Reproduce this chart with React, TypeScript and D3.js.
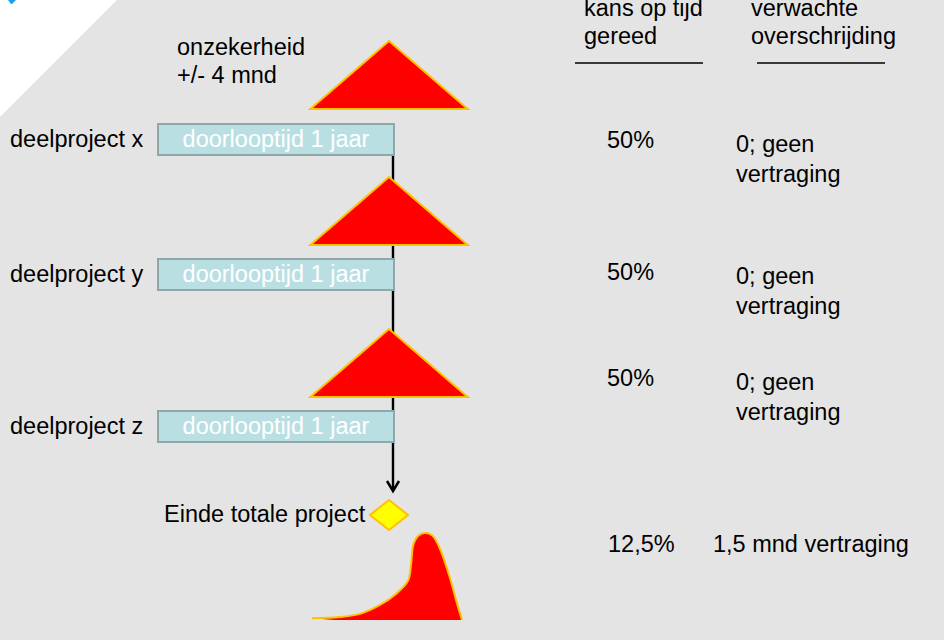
import React from "react";
import * as d3 from "d3";

// ---- data ----
const subprojects = ["deelproject x", "deelproject y", "deelproject z"];
const durationLabel = "doorlooptijd 1 jaar";
const durationMonths = 12;
const uncertaintyMonths = 4;
const onTimeChance = ["50%", "50%", "50%"];
const expectedOverrun = [
  ["0; geen", "vertraging"],
  ["0; geen", "vertraging"],
  ["0; geen", "vertraging"],
];
const headerChance = ["kans op tijd", "gereed"];
const headerOverrun = ["verwachte", "overschrijding"];
const uncertaintyLabel = ["onzekerheid", "+/- 4 mnd"];
const endLabel = "Einde totale project";
const totalChance = "12,5%";
const totalOverrun = "1,5 mnd vertraging";
// resulting distribution (x: relative time, y: relative density)
const distX = [0, 1.9, 3.2, 4.5, 5.6, 6.4, 6.6, 6.75, 7.07, 7.5, 8.0, 8.5, 9.2, 9.65, 10];
const distY = [0.02, 0.035, 0.07, 0.17, 0.3, 0.45, 0.63, 0.86, 0.965, 1.0, 0.975, 0.83, 0.48, 0.2, 0];

// ---- layout ----
const W = 944;
const H = 640;
const FONT = "'Liberation Sans', Arial, Helvetica, sans-serif";
const FS = 23.5;
const barTops = [124, 259, 411];
const barH = 31;
const triTops = [41, 177, 329];
const triH = 68;

const xTime = d3.scaleLinear().domain([0, durationMonths]).range([158, 394]);
const xDist = d3.scaleLinear().domain([0, 10]).range([312, 462]);
const yDist = d3.scaleLinear().domain([0, 1]).range([620, 533]);

export default function App() {
  const lineX = xTime(durationMonths) - 1;
  const triCx = xTime(durationMonths) - 5;
  const halfW = xTime(uncertaintyMonths) - xTime(0);

  const pts: [number, number][] = distX.map((x, i) => [xDist(x), yDist(distY[i])]);
  const curve = d3
    .line<[number, number]>()
    .x((d) => d[0])
    .y((d) => d[1])
    .curve(d3.curveCatmullRom.alpha(0.5));
  const curvePath = curve(pts) || "";
  const fillPath = curvePath + `L${xDist(10)},${yDist(0)}L${xDist(1.5)},${yDist(0)}Z`;

  const diaCx = triCx;
  const diaCy = 515;

  const textStyle: React.CSSProperties = { fontFamily: FONT, fontSize: FS };

  return (
    <svg
      width={W}
      height={H}
      style={{ position: "absolute", left: 0, top: 0, display: "block" }}
    >
      <rect x={0} y={0} width={W} height={H} fill="#e4e4e4" />
      <polygon points="0,0 117,0 0,117" fill="#ffffff" />
      <polygon points="8,0 16,0 12,4 11,4" fill="#1aa3e8" />

      {/* headers */}
      <g style={textStyle} fill="#000">
        {headerChance.map((t, i) => (
          <text key={"hc" + i} x={584} y={16 + i * 28}>{t}</text>
        ))}
        {headerOverrun.map((t, i) => (
          <text key={"ho" + i} x={751} y={16 + i * 28}>{t}</text>
        ))}
      </g>
      <line x1={575} x2={703} y1={63} y2={63} stroke="#000" strokeWidth={1.5} />
      <line x1={757} x2={885} y1={63} y2={63} stroke="#000" strokeWidth={1.5} />

      {/* uncertainty label */}
      <g style={textStyle} fill="#000">
        {uncertaintyLabel.map((t, i) => (
          <text key={"u" + i} x={177} y={55 + i * 28}>{t}</text>
        ))}
      </g>

      {/* vertical connector */}
      <line x1={lineX} x2={lineX} y1={138} y2={490} stroke="#000" strokeWidth={2.4} />
      <polyline
        points={`${lineX - 6},${481} ${lineX},${491} ${lineX + 6},${481}`}
        fill="none"
        stroke="#000"
        strokeWidth={2.5}
      />

      {/* bars */}
      {subprojects.map((name, i) => (
        <g key={name}>
          <text x={10} y={barTops[i] + 23} style={textStyle} fill="#000">{name}</text>
          <rect
            x={xTime(0)}
            y={barTops[i]}
            width={xTime(durationMonths) - xTime(0)}
            height={barH}
            fill="#b9dfe3"
            stroke="#8ea8aa"
            strokeWidth={2}
          />
          <text
            x={(xTime(0) + xTime(durationMonths)) / 2}
            y={barTops[i] + 23}
            textAnchor="middle"
            style={textStyle}
            fill="#ffffff"
          >
            {durationLabel}
          </text>
        </g>
      ))}

      {/* uncertainty triangles */}
      {triTops.map((t, i) => (
        <polygon
          key={"t" + i}
          points={`${triCx},${t} ${triCx + halfW},${t + triH} ${triCx - halfW},${t + triH}`}
          fill="#ff0000"
          stroke="#ffc000"
          strokeWidth={2}
          strokeLinejoin="miter"
        />
      ))}

      {/* row values */}
      {onTimeChance.map((c, i) => {
        const base = [148, 280, 386][i];
        return (
          <g key={"r" + i} style={textStyle} fill="#000">
            <text x={607} y={base}>{c}</text>
            {expectedOverrun[i].map((t, j) => (
              <text key={j} x={736} y={base + 4 + j * 30}>{t}</text>
            ))}
          </g>
        );
      })}

      {/* end milestone */}
      <text x={164} y={522} style={textStyle} fill="#000">{endLabel}</text>
      <polygon
        points={`${diaCx},${diaCy - 15} ${diaCx + 19},${diaCy} ${diaCx},${diaCy + 15} ${diaCx - 19},${diaCy}`}
        fill="#ffff00"
        stroke="#ffc000"
        strokeWidth={2}
      />

      {/* resulting distribution */}
      <path d={fillPath} fill="#ff0000" stroke="none" />
      <path d={curvePath} fill="none" stroke="#ffc000" strokeWidth={2} />

      <g style={textStyle} fill="#000">
        <text x={608} y={552}>{totalChance}</text>
        <text x={713} y={552}>{totalOverrun}</text>
      </g>
    </svg>
  );
}
